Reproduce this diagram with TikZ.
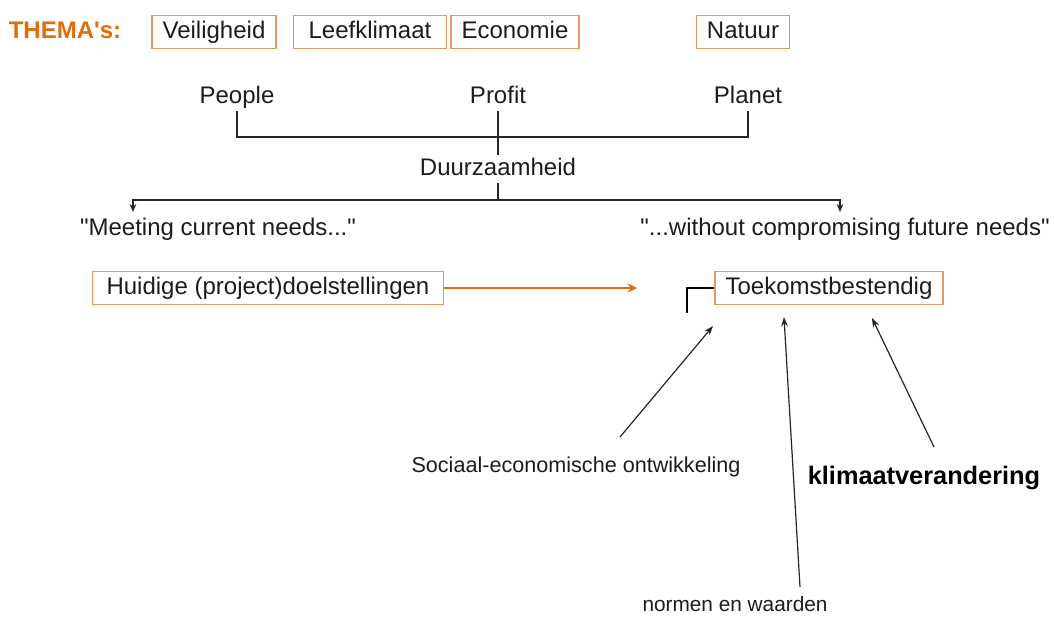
\documentclass[tikz,border=0pt]{standalone}
\usepackage{fontspec}
\setmainfont{Liberation Sans}
\usetikzlibrary{arrows.meta}
\definecolor{themaorange}{RGB}{226,107,10}
\definecolor{boxorange}{RGB}{232,150,95}
\definecolor{inkgray}{RGB}{28,28,28}

\begin{document}
\begin{tikzpicture}[
  x=0.75pt,y=-0.75pt,
  every node/.style={text=inkgray,font=\fontsize{18}{21}\selectfont},
  words/.style={inner sep=2pt,text height=13pt,text depth=4pt},
  theme/.style={draw=boxorange,line width=1.2pt,fill=white,inner xsep=8pt,
    text height=13pt,text depth=4pt,minimum height=25pt},
  tree/.style={draw=black!85,line width=1.1pt},
  split/.style={tree,-{Stealth[length=6pt,width=5pt]}},
  progress/.style={draw=themaorange,line width=2.2pt,-{Stealth[length=7pt,width=7pt]}},
  pointer/.style={draw=black!85,line width=0.9pt,-{Stealth[length=7pt,width=5pt]}}
]
  \useasboundingbox (0,0) rectangle (1054,622);

  \node[words,text=themaorange,font=\fontsize{18}{21}\selectfont\bfseries] (thema-label) at (65,32) {THEMA\textquotesingle s:};
  \node[theme] (veiligheid) at (214,32) {Veiligheid};
  \node[theme,minimum width=115pt] (leefklimaat) at (370,32) {Leefklimaat};
  \node[theme] (economie) at (515,32) {Economie};
  \node[theme] (natuur) at (743,32) {Natuur};

  \node[words] (people) at (237,97) {People};
  \node[words] (profit) at (498,97) {Profit};
  \node[words] (planet) at (748,97) {Planet};
  \node[words] (duurzaamheid) at (498,169) {Duurzaamheid};

  \node[words] (current-needs) at (218,229) {\textquotedbl Meeting current needs...\textquotedbl};
  \node[words] (future-needs) at (845,229) {\textquotedbl...without compromising future needs\textquotedbl};

  \node[theme,minimum width=263pt] (huidige) at (268,288) {Huidige (project)doelstellingen};
  \node[theme] (toekomst) at (829,288) {Toekomstbestendig};

  \node[words,font=\fontsize{16.2}{19}\selectfont] (sociaal) at (576,466) {Sociaal-economische ontwikkeling};
  \node[words,font=\fontsize{15.6}{18}\selectfont] (normen) at (735,605) {normen en waarden};
  \node[words,font=\fontsize{19}{22}\selectfont\bfseries,text=black] (klimaat) at (924,478) {klimaatverandering};

  \coordinate (ppp-join) at (498,137);
  \coordinate (needs-split) at (498,200);
  \coordinate (current-tip) at (133,212);
  \coordinate (future-tip) at (840,212);
  \coordinate (huidige-tip) at (637,288);
  \coordinate (hook-end) at (687,313);
  \coordinate (sociaal-tail) at (620,437);
  \coordinate (sociaal-tip) at (713,326);
  \coordinate (normen-tail) at (800,587);
  \coordinate (normen-tip) at (784,317);
  \coordinate (klimaat-tail) at (934,447);
  \coordinate (klimaat-tip) at (872,318);

  \draw[tree] (people.south) |- (ppp-join) -| (planet.south);
  \draw[tree] (profit.south) -- (duurzaamheid.north);
  \draw[split] (duurzaamheid.south) -- (needs-split) -| (current-tip);
  \draw[split] (needs-split) -| (future-tip);

  \draw[progress] (huidige.east) -- (huidige-tip);
  \draw[line width=1.6pt] (toekomst.west) -| (hook-end);

  \draw[pointer] (sociaal-tail) -- (sociaal-tip);
  \draw[pointer] (normen-tail) -- (normen-tip);
  \draw[pointer] (klimaat-tail) -- (klimaat-tip);
\end{tikzpicture}
\end{document}
